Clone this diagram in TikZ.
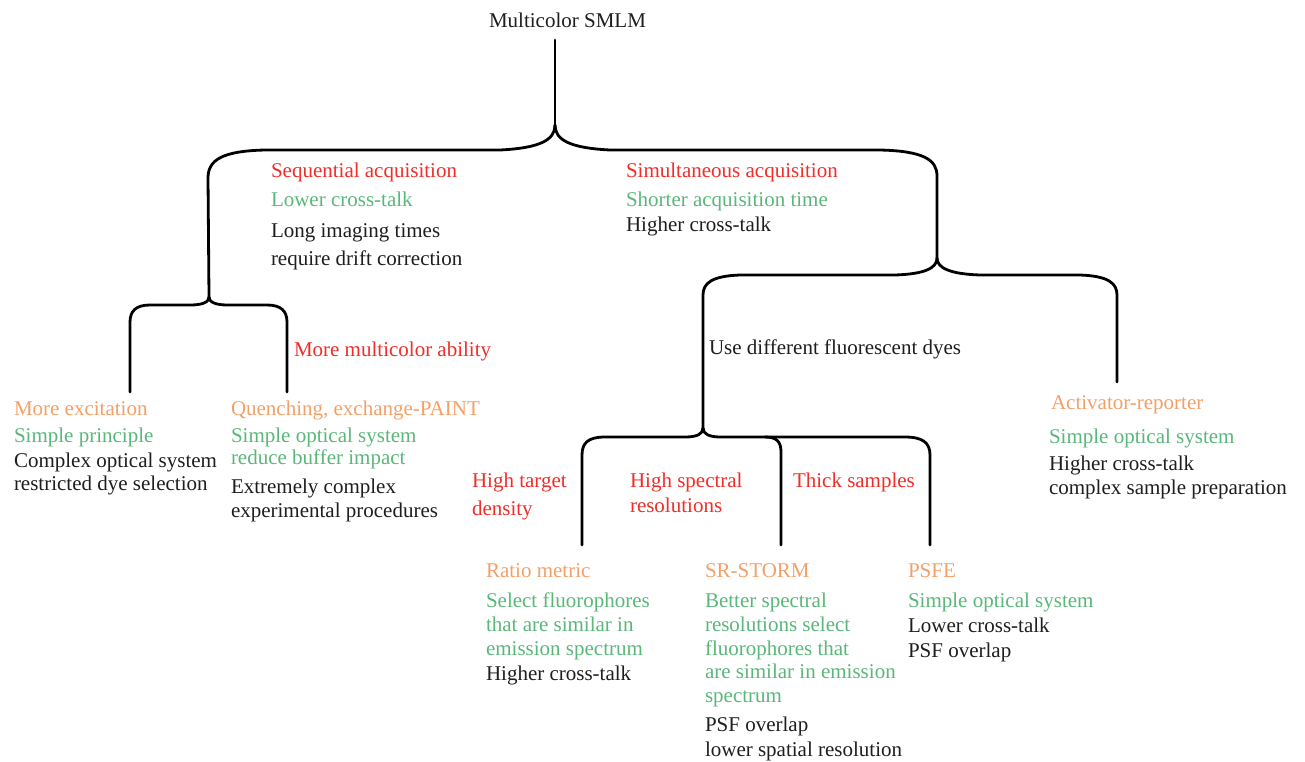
\documentclass[tikz,border=0pt]{standalone}
\usepackage{fontspec}
\setmainfont{Liberation Serif}
\definecolor{cred}{RGB}{240,45,40}
\definecolor{corange}{RGB}{243,160,104}
\definecolor{cgreen}{RGB}{90,183,122}
\definecolor{cblack}{RGB}{30,30,30}
\begin{document}
\begin{tikzpicture}[x=1pt,y=-1pt,
  txt/.style={anchor=base west,inner sep=0pt,outer sep=0pt,font=\fontsize{21}{24}\selectfont},
  rd/.style={txt,text=cred},
  og/.style={txt,text=corange},
  gn/.style={txt,text=cgreen},
  bk/.style={txt,text=cblack},
  brace/.style={line width=2.8pt,black,line cap=round,line join=round}]
\useasboundingbox (0,0) rectangle (1305,761);

% title
\node[bk] (title) at (489,27) {Multicolor SMLM};

% coordinates
\coordinate (top) at (555,40);
\coordinate (c1) at (555,125);
\coordinate (c2) at (209,297);
\coordinate (c3) at (937,258);
\coordinate (c4) at (703,428);
\coordinate (e2l) at (130,392);
\coordinate (e2r) at (287,392);
\coordinate (e3r) at (1117,382);
\coordinate (e4l) at (582,545);
\coordinate (e4m) at (781,545);
\coordinate (e4r) at (930,545);

% brace 1
\draw[brace] (top) -- (c1);
\draw[brace] (c1) .. controls (555,140) and (540,148) .. (500,150) -- (265,150)
  .. controls (222,151) and (208,160) .. (208,178) -- (c2);
\draw[brace] (c1) .. controls (555,140) and (570,148) .. (610,150) -- (880,150)
  .. controls (924,151) and (937,160) .. (937,176) -- (c3);

% brace 2
\draw[brace] (c2) .. controls (209,302) and (203,305) .. (190,305) -- (150,305)
  .. controls (136,305) and (130,311) .. (130,322) -- (e2l);
\draw[brace] (c2) .. controls (209,302) and (215,305) .. (228,305) -- (267,305)
  .. controls (281,305) and (287,311) .. (287,322) -- (e2r);

% brace 3
\draw[brace] (c3) .. controls (937,268) and (925,274) .. (895,275) -- (740,275)
  .. controls (712,276) and (703,283) .. (703,295) -- (c4);
\draw[brace] (c3) .. controls (937,268) and (950,274) .. (980,275) -- (1080,275)
  .. controls (1108,276) and (1117,283) .. (1117,295) -- (e3r);

% brace 4
\draw[brace] (c4) .. controls (703,434) and (697,437) .. (685,437) -- (605,437)
  .. controls (588,437) and (582,443) .. (582,455) -- (e4l);
\draw[brace] (c4) .. controls (703,434) and (709,437) .. (721,437) -- (905,437)
  .. controls (923,437) and (930,443) .. (930,455) -- (e4r);
\draw[brace] (765,437) .. controls (777,437) and (781,442) .. (781,452) -- (e4m);

% sequential
\node[rd] (seq) at (271,177) {Sequential acquisition};
\node[gn] (seq2) at (271,206) {Lower cross-talk};
\node[bk] (seq3) at (271,237) {Long imaging times};
\node[bk] (seq4) at (271,265) {require drift correction};

% simultaneous
\node[rd] (sim) at (626,177) {Simultaneous acquisition};
\node[gn] (sim2) at (626,206) {Shorter acquisition time};
\node[bk] (sim3) at (626,231) {Higher cross-talk};

\node[rd] (mma) at (294,356) {More multicolor ability};
\node[bk] (udf) at (709,354) {Use different fluorescent dyes};

% more excitation
\node[og] (mex) at (14,415) {More excitation};
\node[gn] (mex2) at (14,442) {Simple principle};
\node[bk] (mex3) at (14,467) {Complex optical system};
\node[bk] (mex4) at (14,490) {restricted dye selection};

% quenching
\node[og] (que) at (231,415) {Quenching, exchange-PAINT};
\node[gn] (que2) at (231,442) {Simple optical system};
\node[gn] (que3) at (231,464) {reduce buffer impact};
\node[bk] (que4) at (231,493) {Extremely complex};
\node[bk] (que5) at (231,517) {experimental procedures};

% activator
\node[og] (act) at (1051,409) {Activator-reporter};
\node[gn] (act2) at (1049,443) {Simple optical system};
\node[bk] (act3) at (1049,470) {Higher cross-talk};
\node[bk] (act4) at (1049,494) {complex sample preparation};

% red conditions
\node[rd] (htd) at (472,487) {High target};
\node[rd] (htd2) at (472,515) {density};
\node[rd] (hsr) at (630,487) {High spectral};
\node[rd] (hsr2) at (630,512) {resolutions};
\node[rd] (ths) at (793,487) {Thick samples};

% ratio metric
\node[og] (rm) at (486,577) {Ratio metric};
\node[gn] (rm2) at (486,607) {Select fluorophores};
\node[gn] (rm3) at (486,631) {that are similar in};
\node[gn] (rm4) at (486,655) {emission spectrum};
\node[bk] (rm5) at (486,680) {Higher cross-talk};

% SR-STORM
\node[og] (sr) at (705,577) {SR-STORM};
\node[gn] (sr2) at (705,607) {Better spectral};
\node[gn] (sr3) at (705,631) {resolutions select};
\node[gn] (sr4) at (705,655) {fluorophores that};
\node[gn] (sr5) at (705,678) {are similar in emission};
\node[gn] (sr6) at (705,702) {spectrum};
\node[bk] (sr7) at (705,731) {PSF overlap};
\node[bk] (sr8) at (705,756) {lower spatial resolution};

% PSFE
\node[og] (psfe) at (908,577) {PSFE};
\node[gn] (psfe2) at (908,607) {Simple optical system};
\node[bk] (psfe3) at (908,632) {Lower cross-talk};
\node[bk] (psfe4) at (908,657) {PSF overlap};
\end{tikzpicture}
\end{document}
